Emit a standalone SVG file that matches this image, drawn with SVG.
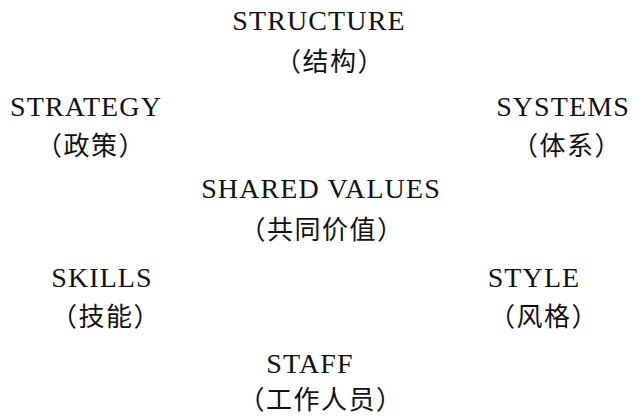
<svg xmlns="http://www.w3.org/2000/svg" width="636" height="416" viewBox="0 0 636 416">
<style>
.en{font-family:"Liberation Serif","Times New Roman",serif;font-size:28px;letter-spacing:1.1px;fill:#111;text-anchor:middle}
.zh{font-family:"Liberation Serif","Noto Sans CJK SC",serif;font-size:26px;letter-spacing:1.5px;fill:#111;text-anchor:middle}
</style>
<rect width="636" height="416" fill="#fff"/>
<g id="structure"><text class="en" x="319" y="30">STRUCTURE</text><text class="zh" x="330" y="71">（结构）</text></g>
<g id="strategy"><text class="en" x="86" y="116">STRATEGY</text><text class="zh" x="91" y="155">（政策）</text></g>
<g id="systems"><text class="en" x="563" y="116">SYSTEMS</text><text class="zh" x="567" y="155">（体系）</text></g>
<g id="shared-values"><text class="en" x="321" y="198">SHARED VALUES</text><text class="zh" x="322" y="239">（共同价值）</text></g>
<g id="skills"><text class="en" x="102" y="287">SKILLS</text><text class="zh" x="106" y="326">（技能）</text></g>
<g id="style"><text class="en" x="534" y="287">STYLE</text><text class="zh" x="544" y="326">（风格）</text></g>
<g id="staff"><text class="en" x="310" y="373">STAFF</text><text class="zh" x="321" y="409">（工作人员）</text></g>
<g id="connectors"></g>
</svg>
